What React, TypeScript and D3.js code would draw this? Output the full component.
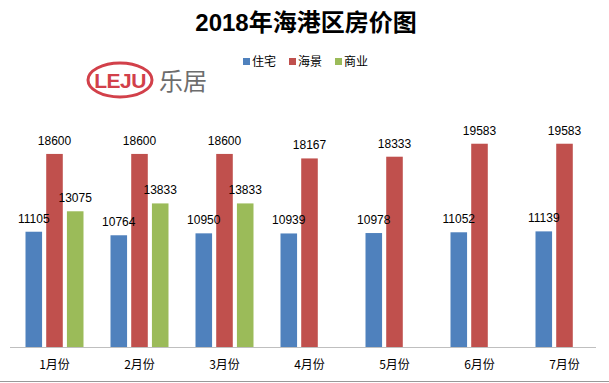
import React from "react";
import * as d3 from "d3";

const categories = ["1月份", "2月份", "3月份", "4月份", "5月份", "6月份", "7月份"];
const seriesNames = ["住宅", "海景", "商业"];
const residential = [11105, 10764, 10950, 10939, 10978, 11052, 11139];
const seaView = [18600, 18600, 18600, 18167, 18333, 19583, 19583];
const commercial: (number | null)[] = [13075, 13833, 13833, null, null, null, null];
const colors = ["#4f81bd", "#c0504d", "#9bbb59"];

const W = 609;
const H = 383;

export default function App() {
  const x = d3.scaleBand<string>().domain(categories).range([12, 607]).paddingInner(0).paddingOuter(0);
  const inner = d3.scaleBand<string>().domain(seriesNames).range([-29, 29]).paddingInner(0.2);
  const y = d3.scaleLinear().domain([0, 20000]).range([347, 139.4]);
  const series = [residential, seaView, commercial];
  const font = "'Liberation Sans', Arial, 'Noto Sans CJK SC', sans-serif";

  const marks: { key: string; bx: number; bw: number; v: number; si: number }[] = [];
  categories.forEach((c, ci) => {
    series.forEach((vals, si) => {
      const v = vals[ci];
      if (v == null) return;
      const cx = (x(c) as number) + x.bandwidth() / 2;
      marks.push({ key: `${c}-${si}`, bx: cx + (inner(seriesNames[si]) as number), bw: inner.bandwidth(), v, si });
    });
  });

  return (
    <svg width={W} height={H} style={{ position: "absolute", left: 0, top: 0, background: "#fff" }} fontFamily={font}>
      <rect x={0} y={0} width={W} height={H} fill="#fff" />
      <text x={306} y={31} textAnchor="middle" fontSize={24} fontWeight="bold" fill="#000"
        fontFamily="'Liberation Sans', 'Noto Sans CJK SC', sans-serif">2018年海港区房价图</text>
      {/* legend */}
      {seriesNames.map((s, i) => (
        <g key={s} transform={`translate(${243 + i * 46},0)`}>
          <rect x={0} y={58} width={7} height={7} fill={colors[i]} />
          <text x={9} y={66} fontSize={12} fill="#000" fontFamily="'Noto Sans CJK SC', sans-serif">{s}</text>
        </g>
      ))}
      {/* logo */}
      <g>
        <ellipse cx={120} cy={80} rx={32} ry={17} fill="none" stroke="#d2404a" strokeWidth={3} />
        <text x={120} y={88} textAnchor="middle" fontSize={21} fontWeight="bold" fill="#d2404a"
          fontFamily="'Liberation Sans', Arial, sans-serif" letterSpacing={-0.5}>LEJU</text>
        <text x={159} y={90} fontSize={24} fill="#6d6d6d" fontFamily="'Noto Sans CJK SC', sans-serif">乐居</text>
      </g>
      {/* bars */}
      {marks.map((m) => (
        <rect key={m.key} x={m.bx} y={y(m.v)} width={m.bw} height={y(0) - y(m.v)} fill={colors[m.si]} />
      ))}
      {/* value labels */}
      {marks.map((m) => (
        <text key={m.key + "-l"} x={m.bx + m.bw / 2} y={y(m.v) - 9} textAnchor="middle" fontSize={12} fill="#000">{m.v}</text>
      ))}
      {/* category labels */}
      {categories.map((c) => (
        <text key={c} x={(x(c) as number) + x.bandwidth() / 2} y={369} textAnchor="middle" fontSize={12} fill="#000"
          fontFamily="'Noto Sans CJK SC', sans-serif">{c}</text>
      ))}
      <line x1={10} x2={596} y1={347.5} y2={347.5} stroke="#bfbfbf" strokeWidth={1} />
      <line x1={0} x2={W} y1={381.5} y2={381.5} stroke="#999" strokeWidth={1} />
    </svg>
  );
}
